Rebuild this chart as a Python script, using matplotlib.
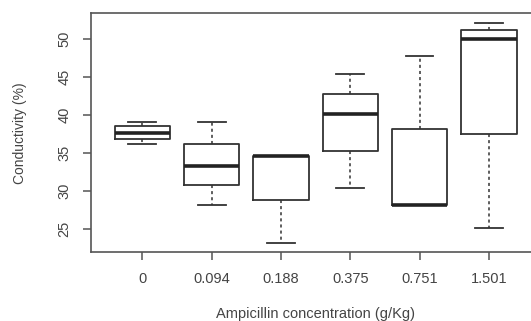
import matplotlib
matplotlib.use('Agg')
import matplotlib.pyplot as plt

plt.rcParams['font.family'] = ['Liberation Sans', 'DejaVu Sans']

# values
labels = ['0', '0.094', '0.188', '0.375', '0.751', '1.501']
whislo = [36.2, 28.2, 23.2, 30.4, 28.2, 25.1]
q1 = [36.8, 30.8, 28.8, 35.3, 28.2, 37.5]
med = [37.6, 33.3, 34.6, 40.1, 28.2, 50.0]
q3 = [38.5, 36.2, 34.6, 42.8, 38.1, 51.2]
whishi = [39.1, 39.1, 34.6, 45.4, 47.7, 52.1]
yticks = [25, 30, 35, 40, 45, 50]

stats = []
for i in range(len(labels)):
    stats.append({'label': labels[i], 'whislo': whislo[i], 'q1': q1[i], 'med': med[i],
                  'q3': q3[i], 'whishi': whishi[i], 'fliers': []})

fig = plt.figure(figsize=(5.31, 3.21), dpi=100)
ax = fig.add_axes([0.1714, 0.2134, 0.846, 0.746])

ink = '#333333'
ax.bxp(stats, widths=0.8, showfliers=False,
       boxprops=dict(color=ink, linewidth=1.3),
       medianprops=dict(color='#222222', linewidth=2.6, solid_capstyle='butt'),
       whiskerprops=dict(color=ink, linewidth=1.1, linestyle=(0, (2, 2))),
       capprops=dict(color=ink, linewidth=1.3))

ax.set_xlim(0.26, 6.74)
ax.set_ylim(21.9, 53.4)
ax.set_yticks(yticks)
ax.set_yticklabels([str(t) for t in yticks], rotation=90, va='center')
for s in ax.spines.values():
    s.set_color('#555555')
    s.set_linewidth(1.2)
ax.tick_params(colors='#555555', labelcolor='#444444', length=6, width=1.1,
               labelsize=10.5, pad=8)
ax.set_xlabel('Ampicillin concentration (g/Kg)', fontsize=10.5, color='#444444', labelpad=15)
ax.set_ylabel('Conductivity (%)', fontsize=10, color='#444444', labelpad=22)

fig.savefig('out.png', dpi=100)
